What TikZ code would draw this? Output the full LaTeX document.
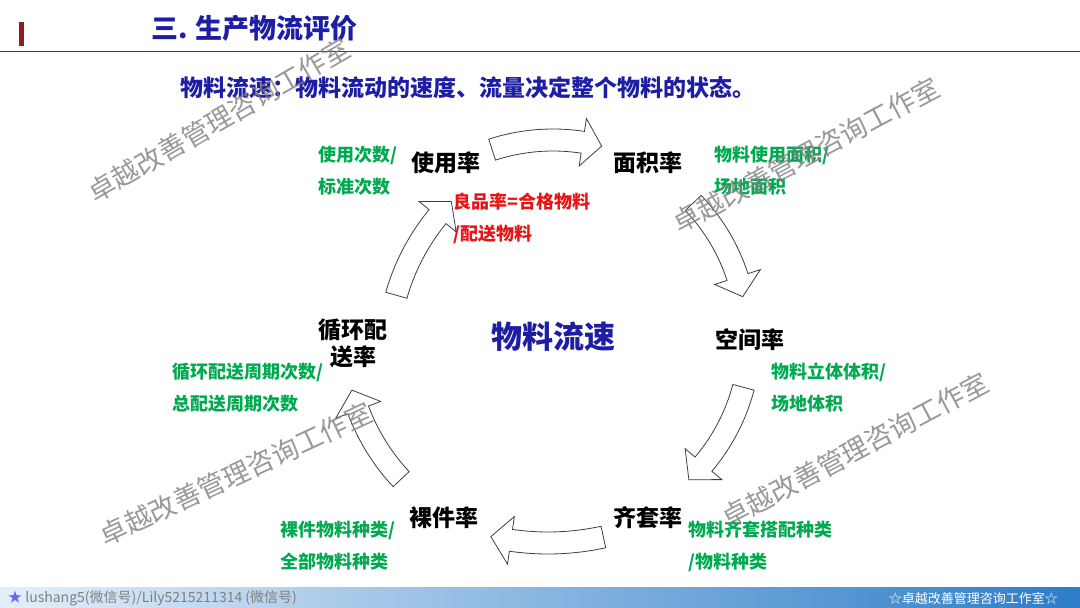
\documentclass[tikz,border=0pt]{standalone}
\usepackage{fontspec}
\setmainfont{Noto Sans CJK SC}
\usepackage{xcolor}
\usepackage{tikz}
\usetikzlibrary{calc}
\definecolor{navy}{RGB}{30,30,165}
\definecolor{labelgreen}{RGB}{0,170,80}
\definecolor{alertred}{RGB}{230,20,20}
\definecolor{rulered}{RGB}{140,30,35}
\definecolor{arrowline}{RGB}{60,60,85}
\newcommand{\typesize}[2]{\fontsize{#1}{#2}\selectfont}
\tikzset{
  rate/.style={font=\typesize{23}{27}\bfseries, text=black, align=center, inner sep=0pt},
  ratio/.style={font=\typesize{18}{32}\bfseries, text=labelgreen, align=left, anchor=west, inner sep=0pt},
  heading/.style={font=\typesize{27}{30}\bfseries, text=navy, anchor=west, inner sep=0pt},
  bent/.style={draw=arrowline, fill=white, line width=0.8pt},
  stamp/.style={font=\typesize{27}{27}, text=gray, opacity=0.8, rotate=28, inner sep=0pt}
}
% curved block arrow: centre, radius, tail angle, head base angle, tip angle
\newcommand{\bentarrow}[5]{%
  \draw[bent] ($(#1)+(#3:{#2+11})$) arc[start angle=#3, end angle=#4, radius={#2+11}]
    -- ($(#1)+(#4:{#2+24})$) -- ($(#1)+(#5:#2)$) -- ($(#1)+(#4:{#2-24})$)
    -- ($(#1)+(#4:{#2-11})$) arc[start angle=#4, end angle=#3, radius={#2-11}] -- cycle;}
\begin{document}
\begin{tikzpicture}[x=1pt,y=-1pt]
  \useasboundingbox (0,0) rectangle (1080,608);
  \fill[white] (0,0) rectangle (1080,608);

  % header
  \fill[rulered] (19,22) rectangle (24,46);
  \draw[rulered, line width=1pt] (0,51) -- (1080,51);
  \node[heading] (title) at (151,28) {三. 生产物流评价};
  \node[heading, font=\typesize{23}{27}\bfseries] (lead) at (180,88)
    {物料流速：物料流动的速度、流量决定整个物料的状态。};

  % cycle
  \coordinate (hub) at (553,337);
  \coordinate (hubs) at (548,283);
  \coordinate (hubw) at (606,355);
  \bentarrow{hub}{197}{-108}{-81.3}{-75.7}
  \bentarrow{hub}{194}{-43.7}{-18}{-12}
  \bentarrow{hub}{197}{14.8}{40.2}{46.4}
  \bentarrow{hubs}{260}{77.7}{98.2}{102.7}
  \bentarrow{hub}{208}{136.9}{159.5}{165.2}
  \bentarrow{hubw}{218}{195.9}{219.4}{224.8}

  \node[font=\typesize{31}{31}\bfseries, text=navy, inner sep=0pt] (speed) at (hub) {物料流速};
  \node[rate] (usage) at (446,163) {使用率};
  \node[rate] (area) at (648,163) {面积率};
  \node[rate] (space) at (750,340) {空间率};
  \node[rate] (kit) at (648,518) {齐套率};
  \node[rate] (bare) at (444,518) {裸件率};
  \node[rate] (cyclic) at (353,343) {循环配\\送率};

  \node[ratio] (usagenote) at (318,171) {使用次数/\\标准次数};
  \node[ratio] (areanote) at (714,171) {物料使用面积/\\场地面积};
  \node[ratio] (spacenote) at (771,388) {物料立体体积/\\场地体积};
  \node[ratio] (cyclicnote) at (172,388) {循环配送周期次数/\\总配送周期次数};
  \node[ratio] (barenote) at (280,546) {裸件物料种类/\\全部物料种类};
  \node[ratio] (kitnote) at (688,546) {物料齐套搭配种类\\/物料种类};
  \node[ratio, text=alertred] (yield) at (453,218) {良品率=合格物料\\/配送物料};

  % footer
  \shade[left color={rgb,255:red,228;green,239;blue,250}, right color={rgb,255:red,45;green,125;blue,200}]
    (0,587) rectangle (1080,608);
  \node[anchor=west, font=\typesize{14}{14}, text=gray, inner sep=0pt] (contact) at (8,598)
    {{\color{blue!60}★} lushang5(微信号)/Lily5215211314 (微信号)};
  \node[anchor=east, font=\typesize{13}{13}, text=white, inner sep=0pt] (studio) at (1058,599)
    {☆卓越改善管理咨询工作室☆};

  % watermarks
  \node[stamp, rotate=2] (stamp1) at (219,120) {卓越改善管理咨询工作室};
  \node[stamp] (stamp2) at (806,155) {卓越改善管理咨询工作室};
  \node[stamp, rotate=-3] (stamp3) at (236,474) {卓越改善管理咨询工作室};
  \node[stamp] (stamp4) at (855,450) {卓越改善管理咨询工作室};
\end{tikzpicture}
\end{document}
